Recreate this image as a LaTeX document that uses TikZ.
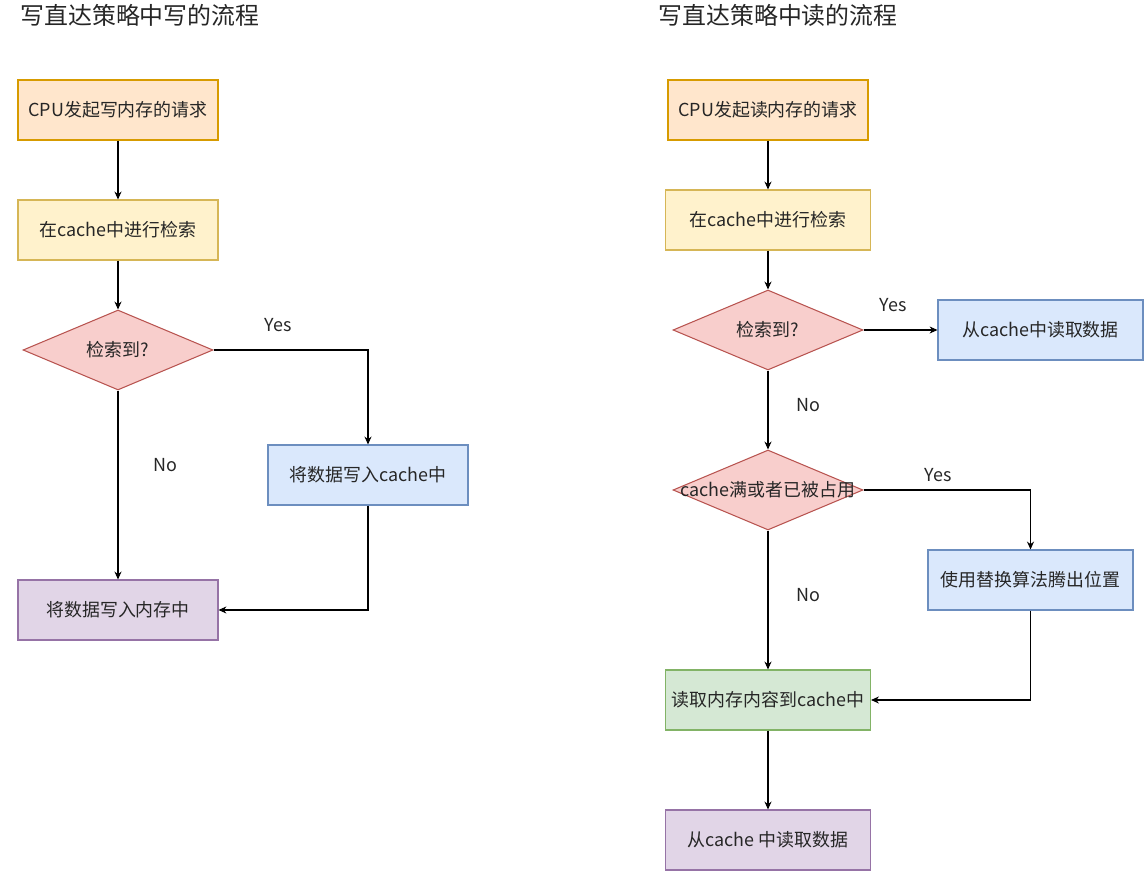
\documentclass[tikz,border=0pt]{standalone}
\usepackage{fontspec}
\setmainfont{Noto Sans CJK SC}
\usetikzlibrary{shapes.geometric,arrows.meta}

\definecolor{orfill}{HTML}{FFE6CC}\definecolor{ordraw}{HTML}{D79B00}
\definecolor{yefill}{HTML}{FFF2CC}\definecolor{yedraw}{HTML}{D6B656}
\definecolor{refill}{HTML}{F8CECC}\definecolor{redraw}{HTML}{B85450}
\definecolor{blfill}{HTML}{DAE8FC}\definecolor{bldraw}{HTML}{6C8EBF}
\definecolor{pufill}{HTML}{E1D5E7}\definecolor{pudraw}{HTML}{9673A6}
\definecolor{grfill}{HTML}{D5E8D4}\definecolor{grdraw}{HTML}{82B366}

\newcommand{\nowd}[1]{\makebox[0pt]{#1}}

\begin{document}
\begin{tikzpicture}[x=0.02cm, y=-0.02cm, >={Stealth[length=4.5pt,width=4pt]},
    every node/.style={font=\fontsize{10.2pt}{12pt}\selectfont, text=black!85},
    box/.style={rectangle, line width=0.6pt, minimum width=4cm, minimum height=1.2cm, inner sep=0pt},
    widebox/.style={box, minimum width=4.1cm},
    reqbox/.style={box, fill=orfill, draw=ordraw},
    searchbox/.style={widebox, fill=yefill, draw=yedraw},
    decision/.style={diamond, fill=refill, draw=redraw, line width=0.6pt, minimum width=3.8cm, minimum height=1.6cm, inner sep=0pt},
    actbox/.style={fill=blfill, draw=bldraw},
    membox/.style={fill=pufill, draw=pudraw},
    loadbox/.style={widebox, fill=grfill, draw=grdraw},
    title/.style={anchor=west, font=\fontsize{13.6pt}{15pt}\selectfont, inner sep=0pt},
    every path/.style={line width=0.6pt}]
    \useasboundingbox (0,0) rectangle (1144,871);

    % left: write
    \node(wtitle)[title] at (20,15) {写直达策略中写的流程};
    \node(wreq)[reqbox] at (118,110) {CPU发起写内存的请求};
    \node(wsearch)[box, fill=yefill, draw=yedraw] at (118,230) {在cache中进行检索};
    \node(whit)[decision] at (118,350) {\nowd{检索到?}};
    \node(wcache)[box, actbox] at (368,475) {将数据写入cache中};
    \node(wmem)[box, membox] at (118,610) {将数据写入内存中};
    \node(wyes) at (278,325) {Yes};
    \node(wno) at (165,465) {No};

    \draw[->] (wreq) -- (wsearch);
    \draw[->] (wsearch) -- (whit);
    \draw[->] (whit.east) -| (wcache.north);
    \draw[->] (whit.south) -- (wmem.north);
    \draw[->] (wcache.south) |- (wmem.east);

    % right: read
    \node(rtitle)[title] at (658,15) {写直达策略中读的流程};
    \node(rreq)[reqbox] at (768,110) {CPU发起读内存的请求};
    \node(rsearch)[searchbox] at (768,220) {在cache中进行检索};
    \node(rhit)[decision] at (768,330) {\nowd{检索到?}};
    \node(rread)[widebox, actbox] at (1040.5,330) {从cache中读取数据};
    \node(rfull)[decision] at (768,490) {\nowd{cache满或者已被占用}};
    \node(rrepl)[widebox, actbox] at (1030.5,580) {使用替换算法腾出位置};
    \node(rload)[loadbox] at (768,700) {读取内存内容到cache中};
    \node(rdone)[widebox, membox] at (768,840) {从cache 中读取数据};
    \node(ryes1) at (893,305) {Yes};
    \node(rno1) at (808,405) {No};
    \node(ryes2) at (938,475) {Yes};
    \node(rno2) at (808,595) {No};

    \draw[->] (rreq) -- (rsearch);
    \draw[->] (rsearch) -- (rhit);
    \draw[->] (rhit.east) -- (rread.west);
    \draw[->] (rhit.south) -- (rfull.north);
    \draw[->] (rfull.east) -| (rrepl.north);
    \draw[->] (rfull.south) -- (rload.north);
    \draw[->] (rrepl.south) |- (rload.east);
    \draw[->] (rload) -- (rdone);
\end{tikzpicture}
\end{document}
